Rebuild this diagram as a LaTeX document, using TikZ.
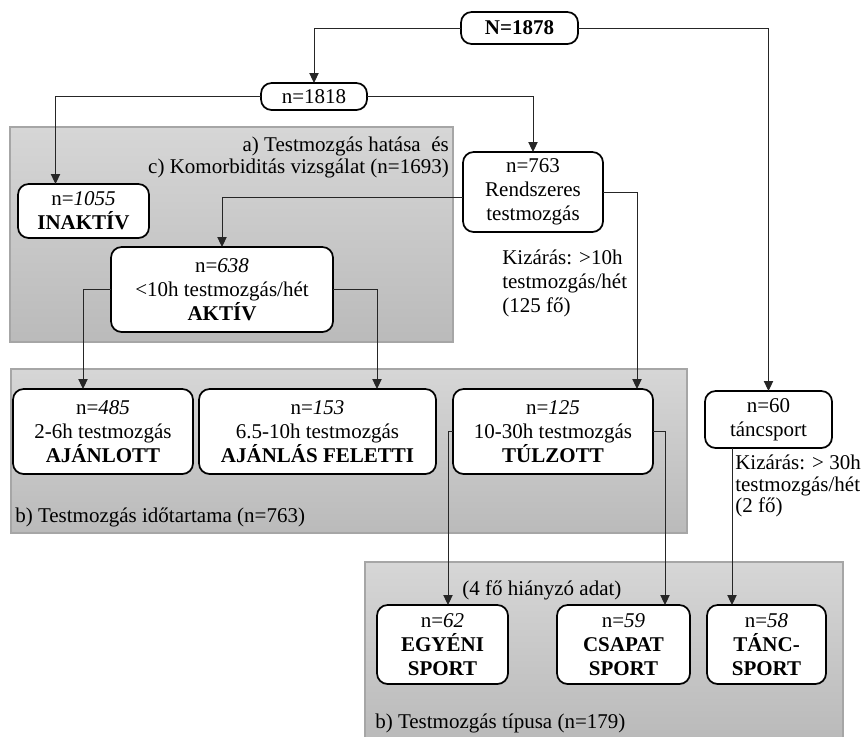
\documentclass[tikz,border=0pt]{standalone}
\usepackage{fontspec}
\setmainfont{Liberation Serif}
\usetikzlibrary{calc, arrows.meta}

\begin{document}
\begin{tikzpicture}[x=0.75pt, y=-0.75pt,
    font=\fontsize{15.75}{18}\selectfont,
    box/.style={draw=black, line width=1.3pt, rounded corners=8pt, fill=white, align=center, inner sep=0pt, outer sep=0pt},
    link/.style={draw=black!85, line width=0.75pt, -{Triangle[length=7.5pt,width=7pt]}},
    panel/.style={draw=black!35, line width=0.8pt, top color=black!16, bottom color=black!27},
    note/.style={align=left, inner sep=0pt}]

    % Fix the page size
    \useasboundingbox (0,0) rectangle (868,736);

    % Draw the grey panels
    \draw[panel] (10,127) rectangle (453,342);
    \draw[panel] (11,369) rectangle (687,533);
    \draw[panel] (365,562) rectangle (843,738);

    % Panel titles
    \node[note, anchor=east, align=right, font=\fontsize{15.75}{16.5}\selectfont] (titleA) at (449,157) {a) Testmozgás hatása\ \ és\\c) Komorbiditás vizsgálat (n=1693)};
    \node[note, anchor=west] (titleB) at (15,517) {b) Testmozgás időtartama (n=763)};
    \node[note, anchor=west] (titleC) at (375,723) {b) Testmozgás típusa (n=179)};
    \node[note, anchor=west] (missing) at (462,590) {(4 fő hiányzó adat)};

    % Draw the boxes
    \node[box, minimum width=87.75pt, minimum height=24pt] (total) at (519.5,28) {\textbf{N=1878}};
    \node[box, minimum width=79.5pt, minimum height=20.25pt] (sample) at (314,96.5) {n=1818};
    \node[box, minimum width=105pt, minimum height=60pt] (regular) at (533,192) {n=763\\Rendszeres\\testmozgás};
    \node[box, minimum width=98.25pt, minimum height=40.5pt] (inactive) at (83.5,211) {n=\textit{1055}\\\textbf{INAKTÍV}};
    \node[box, minimum width=166.5pt, minimum height=63.75pt] (active) at (222,289.5) {n=\textit{638}\\<10h testmozgás/hét\\\textbf{AKTÍV}};

    \node[box, minimum width=135pt, minimum height=63.75pt] (recommended) at (103,431.5) {n=\textit{485}\\2-6h testmozgás\\\textbf{AJÁNLOTT}};
    \node[box, minimum width=177.75pt, minimum height=63.75pt] (aboveRec) at (317.5,431.5) {n=\textit{153}\\6.5-10h testmozgás\\\textbf{AJÁNLÁS FELETTI}};
    \node[box, minimum width=150pt, minimum height=63.75pt] (excessive) at (553,431.5) {n=\textit{125}\\10-30h testmozgás\\\textbf{TÚLZOTT}};
    \node[box, minimum width=95.25pt, minimum height=42.75pt] (dance) at (768.5,419.5) {n=60\\táncsport};

    \node[box, minimum width=98.25pt, minimum height=59.25pt] (individual) at (442.5,644.5) {n=\textit{62}\\\textbf{EGYÉNI}\\\textbf{SPORT}};
    \node[box, minimum width=99.75pt, minimum height=59.25pt] (team) at (623.5,644.5) {n=\textit{59}\\\textbf{CSAPAT}\\\textbf{SPORT}};
    \node[box, minimum width=89.25pt, minimum height=59.25pt] (danceSport) at (766.5,644.5) {n=\textit{58}\\\textbf{TÁNC-}\\\textbf{SPORT}};

    % Exclusion notes
    \node[note, anchor=west] (exclude1) at (502,283) {Kizárás: >10h\\testmozgás/hét\\(125 fő)};
    \node[note, anchor=west, font=\fontsize{15.75}{16}\selectfont] (exclude2) at (735,486) {Kizárás: > 30h\\testmozgás/hét\\(2 fő)};

    % Draw the connectors
    \draw[link] (total) -| (sample);
    \draw[link] (total) -| (dance);
    \draw[link] (sample) -| ($(inactive.north)+(-28,0)$);
    \draw[link] (sample) -| (regular);
    \draw[link] ($(regular.west)+(0,5)$) -| (active);
    \draw[link] (regular) -| ($(excessive.north)+(84,0)$);
    \draw[link] (active) -| ($(recommended.north)+(-20,0)$);
    \draw[link] (active) -| ($(aboveRec.north)+(59.5,0)$);
    \draw[link] (excessive) -| ($(individual.north)+(5.5,0)$);
    \draw[link] (excessive) -| ($(team.north)+(41.5,0)$);
    \draw[link] ($(dance.south)+(-36.5,0)$) -- ($(danceSport.north)+(-34.5,0)$);

\end{tikzpicture}
\end{document}
